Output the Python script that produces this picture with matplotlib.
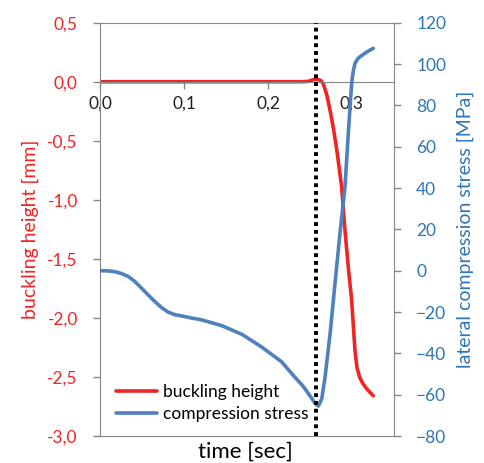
import matplotlib
matplotlib.use("Agg")
import matplotlib.pyplot as plt
from matplotlib.ticker import FuncFormatter, MultipleLocator

# buckling height [mm] vs time [sec]
t_buckling = [0.0, 0.05, 0.10, 0.15, 0.20, 0.240, 0.248, 0.253, 0.258, 0.263, 0.266,
              0.270, 0.274, 0.278, 0.282, 0.2877, 0.2917, 0.2956, 0.2996, 0.3036,
              0.3060, 0.3090, 0.3125, 0.3175, 0.3254]
h_buckling = [0.0, 0.0, 0.0, 0.0, 0.0, 0.0, 0.003, 0.015, 0.022, 0.01, -0.02,
              -0.11, -0.245, -0.40, -0.58, -0.89, -1.26, -1.57, -1.85, -2.28,
              -2.42, -2.50, -2.55, -2.60, -2.66]

# lateral compression stress [MPa] vs time [sec]
t_stress = [0.0, 0.0099, 0.018, 0.0258, 0.034, 0.0417, 0.0496, 0.0575, 0.0655,
            0.0734, 0.0813, 0.0893, 0.097, 0.109, 0.121, 0.145, 0.169, 0.192,
            0.216, 0.2315, 0.242, 0.252, 0.256, 0.260, 0.264, 0.268, 0.274,
            0.2798, 0.2857, 0.2917, 0.2956, 0.2996, 0.3015, 0.3036, 0.3065,
            0.3095, 0.3175, 0.3254]
s_stress = [0.0, -0.1, -0.5, -1.4, -2.9, -5.3, -8.5, -11.8, -15.0,
            -17.9, -20.1, -21.3, -21.9, -22.9, -23.8, -26.6, -30.8, -36.8,
            -44.0, -51.3, -56.0, -61.7, -64.2, -65.5, -62.0, -51.3, -30.3,
            -6.1, 18.0, 40.6, 66.5, 90.7, 96.5, 100.3, 102.3,
            103.5, 105.8, 107.6]

t_onset = 0.257

x_ticks = [0.0, 0.1, 0.2, 0.3]

RED = "#F02424"
BLUE = "#4F81BD"
BLUE_TXT = "#2E75B6"
GRAY = "#868686"

plt.rcParams["font.family"] = ["Lato", "DejaVu Sans"]
plt.rcParams["font.size"] = 12.5


def komma(fmt):
    return FuncFormatter(lambda v, p: (fmt % v).replace(".", ",").replace("-0,0", "0,0"))


fig = plt.figure(figsize=(4.84, 4.63), dpi=100)
ax = fig.add_axes([0.2066, 0.0583, 0.814 - 0.2066, 0.951 - 0.0583])
ax2 = ax.twinx()

l1, = ax.plot(t_buckling, h_buckling, color=RED, lw=2.6, label="buckling height",
              solid_capstyle="round", solid_joinstyle="round")
l2, = ax2.plot(t_stress, s_stress, color=BLUE, lw=2.6, label="compression stress",
               solid_capstyle="round", solid_joinstyle="round")
ax2.axvline(t_onset, color="black", lw=2.8, linestyle=(0, (1, 1)), zorder=5)

ax.set_xlim(0, 0.35)
ax.set_ylim(-3.0, 0.5)
ax2.set_ylim(-80, 120)

ax.yaxis.set_major_locator(MultipleLocator(0.5))
ax.yaxis.set_major_formatter(komma("%.1f"))
ax2.yaxis.set_major_locator(MultipleLocator(20))
ax.set_xticks(x_ticks)
ax.xaxis.set_major_formatter(komma("%.1f"))

ax.spines["bottom"].set_position(("data", 0))
for sp in ax.spines.values():
    sp.set_color(GRAY)
for sp in ax2.spines.values():
    sp.set_color(GRAY)
ax2.spines["top"].set_visible(False)
ax2.spines["left"].set_visible(False)
ax.spines["right"].set_visible(False)

ax.tick_params(axis="y", colors=GRAY, labelcolor=RED, length=5, width=1, pad=11)
ax.tick_params(axis="x", colors=GRAY, labelcolor="#222222", length=5, width=1, pad=5)
ax2.tick_params(axis="y", colors=GRAY, labelcolor=BLUE_TXT, length=5, width=1, pad=11)

ax.set_ylabel("buckling height [mm]", color=RED, labelpad=6, fontsize=14)
ax2.set_ylabel("lateral compression stress [MPa]", color=BLUE_TXT, labelpad=7, fontsize=14)
fig.text(0.507, 0.024, "time [sec]", ha="center", va="center", fontsize=16)

ax2.legend(handles=[l1, l2], loc="lower left", frameon=False, bbox_to_anchor=(0.0, -0.005),
           handlelength=2.4, handletextpad=0.35, labelspacing=0.35, fontsize=12.5,
           borderaxespad=0.5)

fig.savefig("out.png", dpi=100)
